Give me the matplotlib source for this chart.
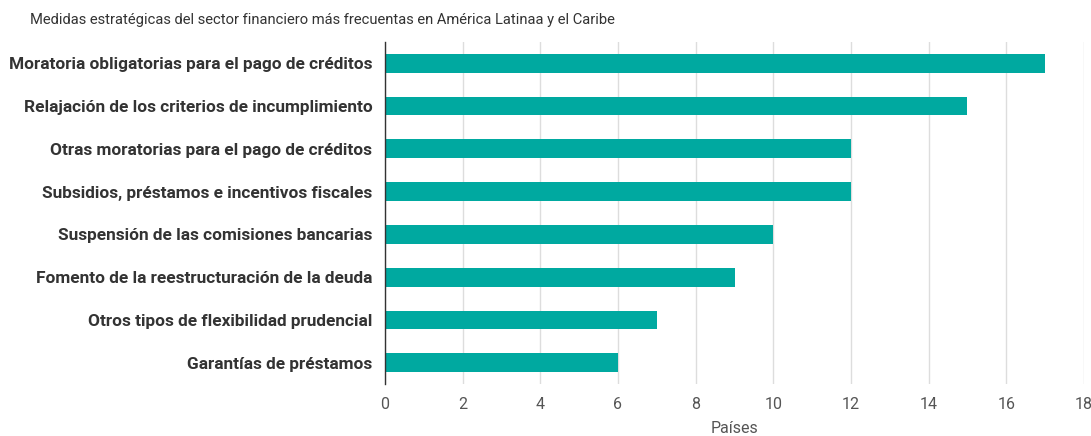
import matplotlib
matplotlib.use("Agg")
import matplotlib.pyplot as plt
import numpy as np

plt.rcParams['font.family'] = ['Roboto', 'DejaVu Sans']

TITLE = "Medidas estratégicas del sector financiero más frecuentas en América Latinaa y el Caribe"
categories = [
    "Moratoria obligatorias para el pago de créditos",
    "Relajación de los criterios de incumplimiento",
    "Otras moratorias para el pago de créditos",
    "Subsidios, préstamos e incentivos fiscales",
    "Suspensión de las comisiones bancarias",
    "Fomento de la reestructuración de la deuda",
    "Otros tipos de flexibilidad prudencial",
    "Garantías de préstamos",
]
values = [17, 15, 12, 12, 10, 9, 7, 6]
xticks = [0, 2, 4, 6, 8, 10, 12, 14, 16, 18]

fig = plt.figure(figsize=(10.91, 4.36), dpi=100)
ax = fig.add_axes([385 / 1091, 0.119, 699 / 1091, 0.785])

y = np.arange(len(categories))
ax.barh(y, values, height=0.44, color="#00a9a0", zorder=2)
ax.set_ylim(len(categories) - 0.5, -0.5)
ax.set_xlim(0, 18)

ax.set_yticks(y)
ax.set_yticklabels(categories, fontsize=12.4, fontweight='bold', color="#333333")
ax.set_xticks(xticks)
ax.set_xticklabels([str(t) for t in xticks], fontsize=11.5, color="#555555")
ax.tick_params(axis='both', length=0)
ax.tick_params(axis='y', pad=9)
ax.tick_params(axis='x', pad=9)

ax.grid(axis='x', color="#dddddd", linewidth=1, zorder=0)
for s in ['top', 'right', 'bottom']:
    ax.spines[s].set_visible(False)
ax.spines['left'].set_color("#333333")
ax.spines['left'].set_linewidth(1)

ax.set_xlabel("Países", fontsize=11.5, color="#555555", labelpad=7)
fig.text(30 / 1091, 1 - 20 / 436, TITLE, fontsize=10.6, color="#333333", va='center', ha='left')

fig.savefig("out.png", dpi=100)
